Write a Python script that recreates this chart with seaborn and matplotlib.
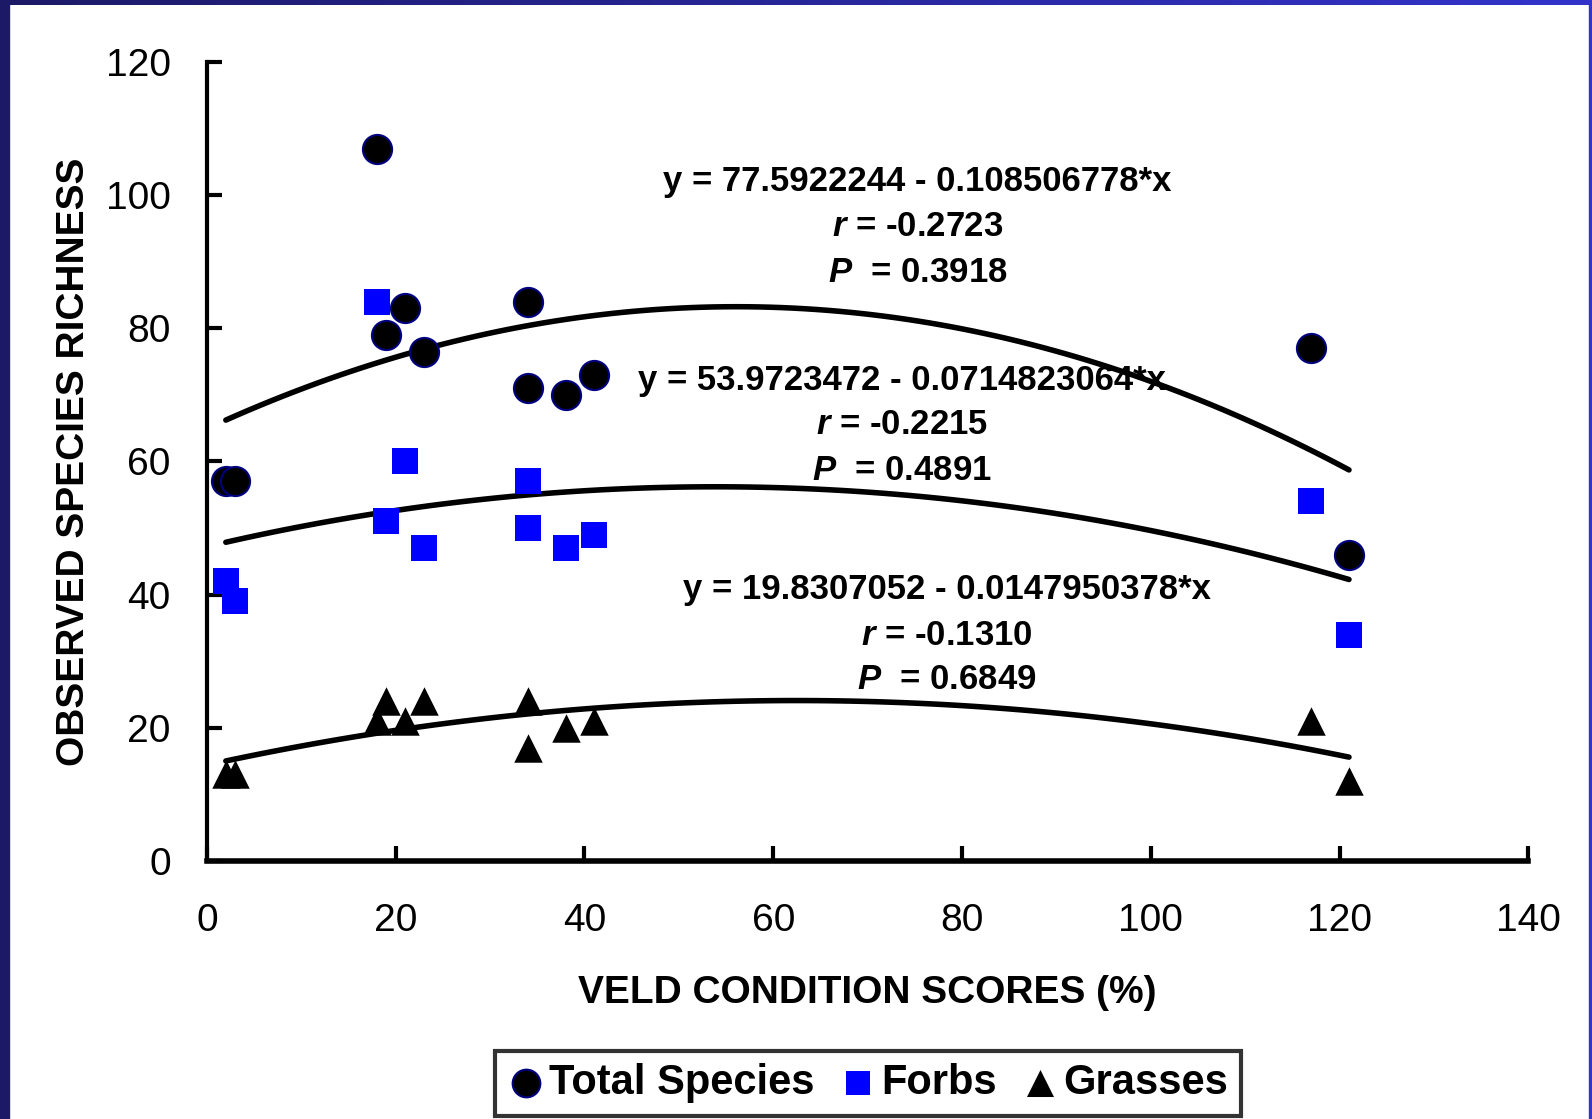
import numpy as np
import pandas as pd
import matplotlib
matplotlib.use('Agg')
import matplotlib.pyplot as plt
from matplotlib.patches import Rectangle
import seaborn as sns

# values
veld = [2, 3, 18, 19, 21, 23, 34, 34, 38, 41, 117, 121]
total_species = [57, 57, 107, 79, 83, 76.5, 84, 71, 70, 73, 77, 46]
forbs = [42, 39, 84, 51, 60, 47, 57, 50, 47, 49, 54, 34]
grasses = [13, 13, 21, 24, 21, 24, 24, 17, 20, 21, 21, 12]

eq_lines = [
    ['y = 77.5922244 - 0.108506778*x', '$r$ = -0.2723', '$P$  = 0.3918'],
    ['y = 53.9723472 - 0.0714823064*x', '$r$ = -0.2215', '$P$  = 0.4891'],
    ['y = 19.8307052 - 0.0147950378*x', '$r$ = -0.1310', '$P$  = 0.6849'],
]
eq_pos = [(75.3, [102.1, 95.3, 88.4]), (73.6, [72.2, 65.5, 58.6]), (78.4, [40.8, 33.8, 27.2])]

df = pd.DataFrame({'veld': veld, 'Total Species': total_species,
                   'Forbs': forbs, 'Grasses': grasses})

sns.set_style('white')
plt.rcParams['font.family'] = ['Liberation Sans', 'DejaVu Sans']
plt.rcParams['mathtext.fontset'] = 'custom'
plt.rcParams['mathtext.it'] = 'Liberation Sans:bold:italic'
plt.rcParams['mathtext.rm'] = 'Liberation Sans:bold'
plt.rcParams['text.color'] = 'black'
plt.rcParams['axes.labelcolor'] = 'black'
plt.rcParams['xtick.color'] = 'black'
plt.rcParams['ytick.color'] = 'black'

fig = plt.figure(figsize=(15.92, 11.19), dpi=100)
ax = fig.add_axes([0.130, 0.2306, 0.830, 0.714])

# quadratic trend lines
for col in ['Total Species', 'Forbs', 'Grasses']:
    sns.regplot(data=df, x='veld', y=col, order=2, ci=None, scatter=False,
                line_kws={'color': 'black', 'lw': 4}, ax=ax)

sns.scatterplot(data=df, x='veld', y='Total Species', marker='o', s=440,
                color='black', edgecolor='#000080', linewidth=1.5, ax=ax,
                label='Total Species', zorder=5)
sns.scatterplot(data=df, x='veld', y='Forbs', marker='s', s=330,
                color='#0000ff', edgecolor='#0000ff', linewidth=0, ax=ax,
                label='Forbs', zorder=5)
sns.scatterplot(data=df, x='veld', y='Grasses', marker='^', s=420,
                color='black', edgecolor='black', linewidth=0, ax=ax,
                label='Grasses', zorder=5)

for (xt, ys), lines in zip(eq_pos, eq_lines):
    for yv, txt in zip(ys, lines):
        ax.text(xt, yv, txt, ha='center', va='center', fontsize=25,
                fontweight='bold', color='black')

ax.set_xlim(0, 140)
ax.set_ylim(0, 120)
ax.set_xticks(range(0, 141, 20))
ax.set_yticks(range(0, 121, 20))
ax.tick_params(bottom=True, left=True, direction='in', length=11, width=3,
               labelsize=28, colors='black')
ax.tick_params(axis='x', pad=30)
ax.tick_params(axis='y', pad=26)
for side in ['top', 'right']:
    ax.spines[side].set_visible(False)
ax.spines['left'].set_linewidth(3)
ax.spines['bottom'].set_linewidth(4)
ax.spines['left'].set_color('black')
ax.spines['bottom'].set_color('black')

ax.set_xlabel('VELD CONDITION SCORES (%)', fontsize=28, fontweight='bold',
              labelpad=26)
ax.set_ylabel('OBSERVED SPECIES RICHNESS', fontsize=28, fontweight='bold',
              labelpad=10)

leg = ax.legend(loc='center', bbox_to_anchor=(0.5, -0.278), ncol=3,
                frameon=True, fancybox=False, edgecolor='black',
                prop={'weight': 'bold', 'size': 30}, handletextpad=0.1,
                columnspacing=0.6, borderpad=0.3, handlelength=0.9,
                markerscale=0.95)
leg.get_frame().set_linewidth(3)

# slide border
fig.patches.append(Rectangle((0, 0), 9 / 1592, 1, transform=fig.transFigure,
                             color='#1c1a66', zorder=0))
fig.patches.append(Rectangle((1 - 3 / 1592, 0), 3 / 1592, 1,
                             transform=fig.transFigure, color='#3333cc', zorder=0))
top = fig.add_axes([0, 1 - 5 / 1119, 1, 5 / 1119])
top.imshow(np.linspace(0, 1, 256).reshape(1, -1), aspect='auto',
           cmap=matplotlib.colors.LinearSegmentedColormap.from_list(
               'band', ['#1c1a66', '#3333cc']))
top.axis('off')

fig.savefig('out.png', dpi=100)
